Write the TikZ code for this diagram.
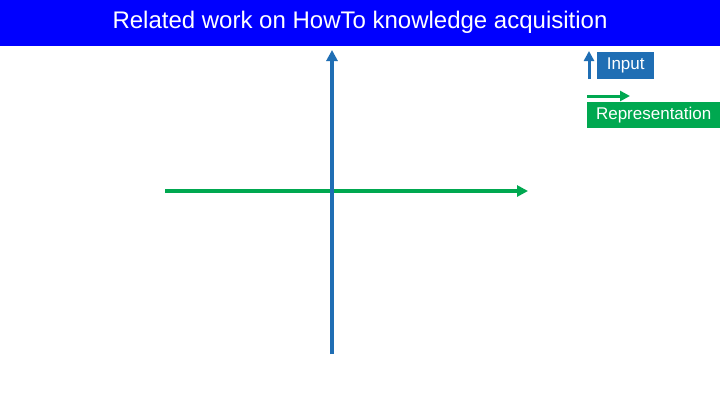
\documentclass[tikz,border=0pt]{standalone}
\usepackage{fontspec}
\setmainfont{Liberation Sans}
\usetikzlibrary{arrows.meta}
\definecolor{titleblue}{RGB}{0,0,255}
\definecolor{inblue}{RGB}{31,110,180}
\definecolor{repgreen}{RGB}{0,168,80}
\begin{document}
\begin{tikzpicture}[x=1pt, y=-1pt]
\tikzset{axisline/.style={-{Triangle[length=11pt, width=11pt]}, line width=3.5pt}}
\tikzset{keyline/.style={-{Triangle[length=10pt, width=10pt]}, line width=3pt}}
\tikzset{keybox/.style={anchor=north west, text=white, inner sep=0pt, font=\fontsize{17}{19}\selectfont}}
% page and title bar
\useasboundingbox (0,0) rectangle (720,405);
\fill[white] (0,0) rectangle (720,405);
\fill[titleblue] (0,0) rectangle (720,46);
\node (title) [text=white, font=\fontsize{24}{27}\selectfont] at (360,22) {Related work on HowTo knowledge acquisition};
% axes
\coordinate (hstart) at (165,191);
\coordinate (hend)   at (528,191);
\coordinate (vstart) at (332,354);
\coordinate (vend)   at (332,50);
\draw[axisline, repgreen] (hstart) -- (hend);
\draw[axisline, inblue]   (vstart) -- (vend);
% key
\node (input) [keybox, fill=inblue, minimum width=57pt, minimum height=27pt] at (597,52) {};
\node at (input.center) [text=white, font=\fontsize{17}{19}\selectfont] {Input};
\coordinate (in1) at (589,79);
\coordinate (in2) at (589,51);
\draw[keyline, inblue] (in1) -- (in2);
\coordinate (rep1) at (587,96);
\coordinate (rep2) at (630,96);
\draw[keyline, repgreen] (rep1) -- (rep2);
\node (repr) [keybox, fill=repgreen, minimum width=133pt, minimum height=26pt] at (587,102) {};
\node at (repr.center) [text=white, font=\fontsize{17}{19}\selectfont] {Representation};
\end{tikzpicture}
\end{document}
